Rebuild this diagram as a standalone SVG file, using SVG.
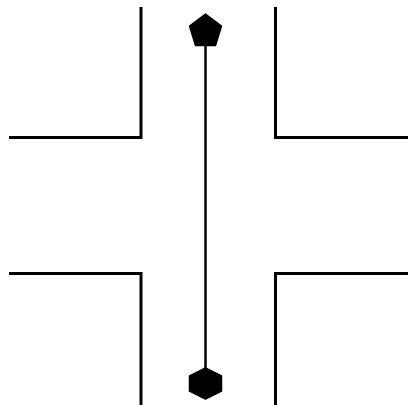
<svg xmlns="http://www.w3.org/2000/svg" width="409" height="405" viewBox="0 0 409 405">
<style>
.road{fill:none;stroke:#000;stroke-width:3;stroke-linejoin:miter}
.conn{stroke:#000;stroke-width:2.5}
.mark{fill:#000;stroke:#000;stroke-width:1.5;stroke-linejoin:round}
</style>
<rect width="409" height="405" fill="#fff"/>
<g id="roads">
<path class="road" d="M9,137.5 H141 V7"/>
<path class="road" d="M408,137.5 H275.5 V7"/>
<path class="road" d="M9,273.5 H141 V405"/>
<path class="road" d="M408,273.5 H275.5 V405"/>
</g>
<g id="connectors">
<line class="conn" x1="205.5" y1="30" x2="205.5" y2="383"/>
</g>
<g id="start">
<polygon class="mark" points="205.5,14 221.5,26 215.5,45.5 195.5,45.5 189.5,26"/>
</g>
<g id="end">
<polygon class="mark" points="205.5,368 221.5,376 221.5,391 205.5,399 189.5,391 189.5,376"/>
</g>
</svg>
